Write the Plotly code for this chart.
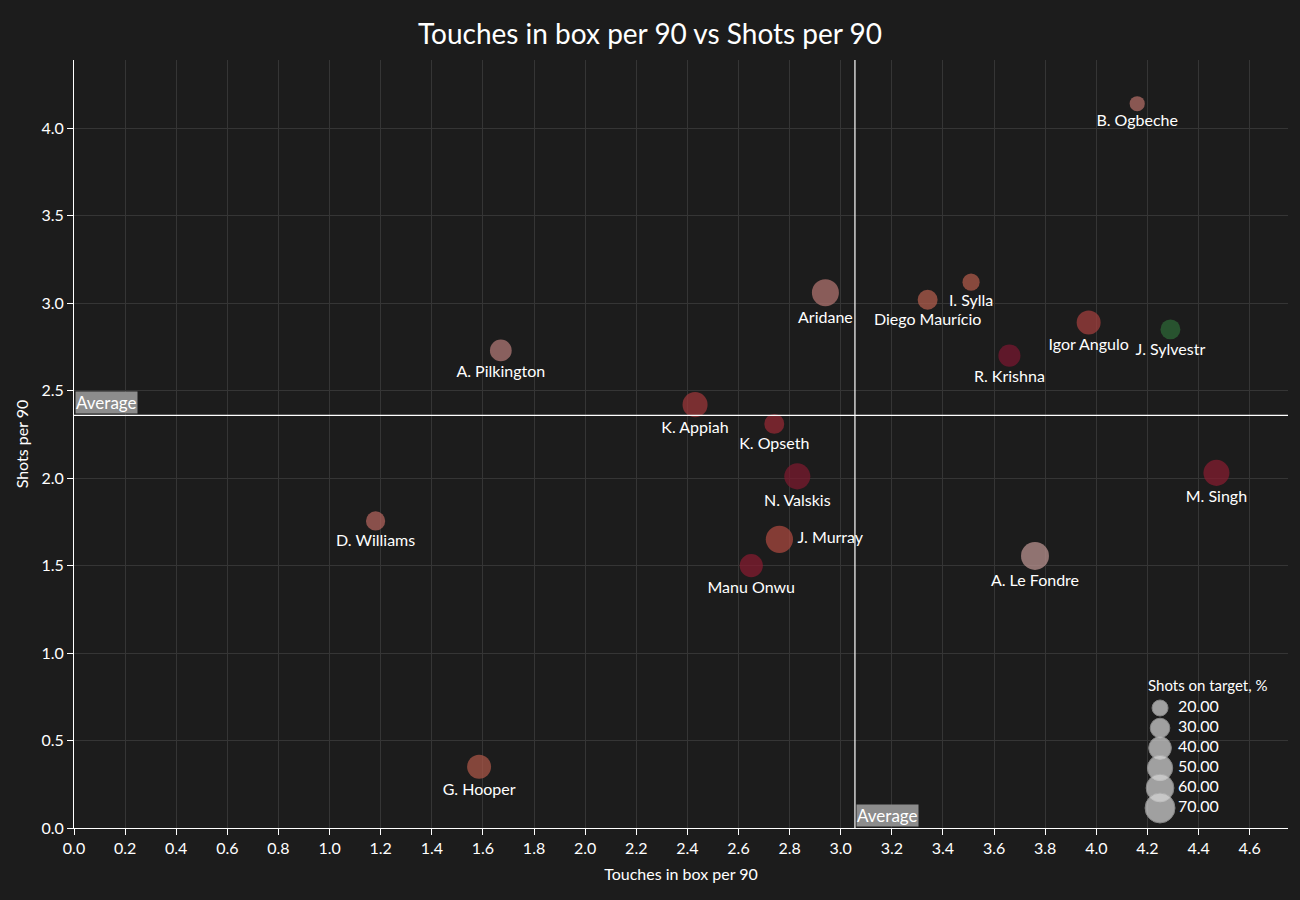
import plotly.graph_objects as go

players = ["B. Ogbeche", "I. Sylla", "Diego Maurício", "Aridane", "Igor Angulo", "J. Sylvestr",
           "R. Krishna", "A. Pilkington", "K. Appiah", "K. Opseth", "N. Valskis", "M. Singh",
           "D. Williams", "J. Murray", "Manu Onwu", "A. Le Fondre", "G. Hooper"]
touches_in_box = [4.16, 3.51, 3.34, 2.94, 3.97, 4.29, 3.66, 1.67, 2.43, 2.74, 2.83, 4.47,
                  1.18, 2.76, 2.65, 3.76, 1.585]
shots_per90 = [4.14, 3.12, 3.02, 3.06, 2.89, 2.85, 2.70, 2.73, 2.42, 2.31, 2.01, 2.03,
               1.755, 1.65, 1.50, 1.555, 0.35]
shots_on_target = [18, 23, 31, 57, 45, 31, 38, 37, 49, 31, 53, 53, 29, 58, 42, 61, 45]
legend_values = [20, 30, 40, 50, 60, 70]

# styles
point_colors = ["#b8706a", "#b55c4c", "#b8604f", "#b87874", "#a8403e", "#2e6b38",
                "#7c1730", "#b87e7b", "#a2383a", "#9a2a34", "#801a2f", "#8a1d31",
                "#b86660", "#b04a40", "#8a1b31", "#c29896", "#b05848"]
text_pos = ["bottom center"] * len(players)
text_pos[players.index("J. Murray")] = "middle right"

FONT = "Lato"
BG = "#1c1c1c"
GRID = "#353535"
SIZEREF = 2 * 20 / 16 ** 2

avg_x = sum(touches_in_box) / len(touches_in_box)
avg_y = sum(shots_per90) / len(shots_per90)

fig = go.Figure()

fig.add_trace(go.Scatter(
    x=touches_in_box, y=shots_per90, mode="markers+text",
    text=players, textposition=text_pos,
    textfont=dict(family=FONT, size=16, color="white"),
    marker=dict(size=shots_on_target, sizemode="area", sizeref=SIZEREF,
                color=point_colors, line=dict(width=0)),
    showlegend=False, hoverinfo="text+x+y", cliponaxis=False,
))

# size legend drawn on an overlay axis
fig.add_trace(go.Scatter(
    x=[0.8946] * len(legend_values), y=legend_values, mode="markers",
    marker=dict(size=legend_values, sizemode="area", sizeref=SIZEREF,
                color="#d8d8d8", line=dict(color="#b0b0b0", width=1)),
    xaxis="x2", yaxis="y2", showlegend=False, hoverinfo="skip", cliponaxis=False,
))
fig.add_trace(go.Scatter(
    x=[0.9094] * len(legend_values), y=legend_values, mode="text",
    text=[f"{v:.2f}" for v in legend_values], textposition="middle right",
    textfont=dict(family=FONT, size=16, color="white"),
    xaxis="x2", yaxis="y2", showlegend=False, hoverinfo="skip", cliponaxis=False,
))

fig.add_shape(type="line", x0=avg_x, x1=avg_x, y0=0, y1=1, xref="x", yref="paper",
              line=dict(color="white", width=1.2))
fig.add_shape(type="line", x0=0, x1=1, y0=avg_y, y1=avg_y, xref="paper", yref="y",
              line=dict(color="white", width=1.2))

fig.add_annotation(x=0, y=avg_y, xref="paper", yref="y", text="Average", showarrow=False,
                   xanchor="left", yanchor="bottom", yshift=1, xshift=1,
                   bgcolor="#8c8c8c", font=dict(family=FONT, size=17, color="white"),
                   borderpad=0)
fig.add_annotation(x=avg_x, y=0, xref="x", yref="paper", text="Average", showarrow=False,
                   xanchor="left", yanchor="bottom", xshift=1, yshift=1,
                   bgcolor="#8c8c8c", font=dict(family=FONT, size=17, color="white"),
                   borderpad=0)
fig.add_annotation(x=(1208 - 74) / 1214, y=(828 - 685) / 768, xref="paper", yref="paper",
                   xanchor="center", yanchor="middle", text="Shots on target, %",
                   showarrow=False, font=dict(family=FONT, size=15, color="white"))

fig.update_layout(
    width=1300, height=900,
    paper_bgcolor=BG, plot_bgcolor=BG,
    margin=dict(l=74, r=12, t=60, b=72),
    title=dict(text="Touches in box per 90 vs Shots per 90", x=0.5, xanchor="center",
               y=1 - 34 / 900, yanchor="middle", font=dict(family=FONT, size=28, color="white")),
    font=dict(family=FONT, color="white", size=16),
    xaxis=dict(range=[0, 4.75], dtick=0.2, tickformat=".1f", showgrid=True, gridcolor=GRID,
               zeroline=False, showline=True, linecolor="white", linewidth=1,
               ticks="outside", tickcolor="white", ticklen=6,
               title=dict(text="Touches in box per 90", font=dict(size=16), standoff=12),
               tickfont=dict(size=16)),
    yaxis=dict(range=[0, 4.39], dtick=0.5, tickformat=".1f", showgrid=True, gridcolor=GRID,
               zeroline=False, showline=True, linecolor="white", linewidth=1,
               ticks="outside", tickcolor="white", ticklen=6,
               title=dict(text="Shots per 90", font=dict(size=16), standoff=8),
               tickfont=dict(size=16)),
    xaxis2=dict(range=[0, 1], overlaying="x", visible=False, fixedrange=True),
    yaxis2=dict(range=[80, -304], overlaying="y", visible=False, fixedrange=True),
)

fig.write_html("out.html", config={"displayModeBar": False}, post_script=(
    "document.body.style.margin='0';"
    "document.body.style.background='#1c1c1c';"
))
